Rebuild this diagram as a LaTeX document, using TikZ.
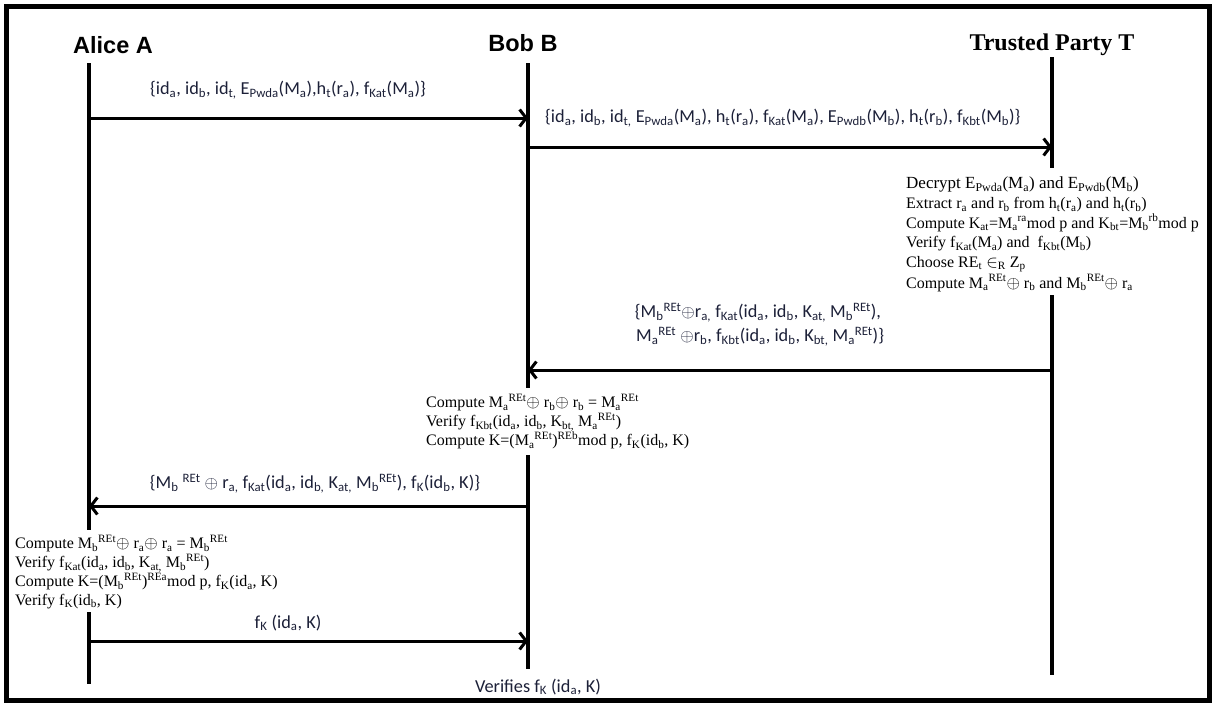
\documentclass[tikz,border=0pt]{standalone}
\usepackage{fontspec}
\setmainfont{Liberation Serif}
\newfontfamily\calfont{Carlito}
\newfontfamily\hdsans{Liberation Sans}
\usetikzlibrary{arrows.meta}
\newcommand{\subx}[1]{\textsubscript{#1}}
\newcommand{\supx}[1]{\textsuperscript{#1}}
\definecolor{msgtext}{RGB}{28,32,56}
\begin{document}
\begin{tikzpicture}[x=1pt,y=-1pt,
  life/.style={line width=3.2pt},
  msg/.style={line width=3pt,-{Straight Barb[length=6.5pt,width=17pt,line width=3pt]}},
  hdr/.style={font=\hdsans\bfseries\fontsize{23.5}{26}\selectfont, inner sep=0pt},
  lbl/.style={font=\calfont\fontsize{18.3}{24}\selectfont, text=msgtext, inner sep=0pt},
  comp/.style={font=\fontsize{16}{18.8}\selectfont, align=left, inner sep=0pt, anchor=north west},
]
\useasboundingbox (0,0) rectangle (1214,704);
% outer frame
\draw[line width=5pt] (6.5,6.5) rectangle (1209.5,700);

% participants
\node[hdr] (alice) at (113,45) {Alice A};
\node[hdr] (bob) at (523,43) {Bob B};
\node[font=\bfseries\fontsize{24}{26}\selectfont, inner sep=0pt] (trust) at (1052,45) {Trusted Party T};

% lifeline end points
\coordinate (aTop) at (89,63);
\coordinate (aCut) at (89,530);
\coordinate (aRes) at (89,612);
\coordinate (aEnd) at (89,684);
\coordinate (bTop) at (528,63);
\coordinate (bCut) at (528,388);
\coordinate (bRes) at (528,455);
\coordinate (bEnd) at (528,669);
\coordinate (tTop) at (1052,57);
\coordinate (tCut) at (1052,168);
\coordinate (tRes) at (1052,295);
\coordinate (tEnd) at (1052,675);

% computations
\node[comp, font=\fontsize{16}{19.6}\selectfont] (tcomp) at (906,177) {{\fontsize{17}{18}\selectfont Decrypt E\subx{Pwda}(M\subx{a}) and E\subx{Pwdb}(M\subx{b})}\\
Extract r\subx{a} and r\subx{b} from h\subx{t}(r\subx{a}) and h\subx{t}(r\subx{b})\\
Compute K\subx{at}=M\subx{a}\supx{ra}mod p and K\subx{bt}=M\subx{b}\supx{rb}mod p\\
Verify f\subx{Kat}(M\subx{a}) and\ \ f\subx{Kbt}(M\subx{b})\\
Choose RE\subx{t} $\in$\subx{R} Z\subx{p}\\[1pt]
Compute M\subx{a}\supx{REt}$\oplus$ r\subx{b} and M\subx{b}\supx{REt}$\oplus$ r\subx{a}};

\node[comp] (bcomp) at (426,394) {Compute M\subx{a}\supx{REt}$\oplus$ r\subx{b}$\oplus$ r\subx{b} = M\subx{a}\supx{REt}\\
Verify f\subx{Kbt}(id\subx{a}, id\subx{b}, K\subx{bt,} M\subx{a}\supx{REt})\\
Compute K=(M\subx{a}\supx{REt})\supx{REb}mod p, f\subx{K}(id\subx{b}, K)};

\node[comp] (acomp) at (15,535) {Compute M\subx{b}\supx{REt}$\oplus$ r\subx{a}$\oplus$ r\subx{a} = M\subx{b}\supx{REt}\\
Verify f\subx{Kat}(id\subx{a}, id\subx{b}, K\subx{at,} M\subx{b}\supx{REt})\\
Compute K=(M\subx{b}\supx{REt})\supx{REa}mod p, f\subx{K}(id\subx{a}, K)\\
Verify f\subx{K}(id\subx{b}, K)};

% lifelines
\draw[life] (aTop) -- (aCut);
\draw[life] (aRes) -- (aEnd);
\draw[life] (bTop) -- (bCut);
\draw[life] (bRes) -- (bEnd);
\draw[life] (tTop) -- (tCut);
\draw[life] (tRes) -- (tEnd);

% message anchor points on the lifelines
\coordinate (a1) at (89,118);  \coordinate (b1) at (528,118);
\coordinate (b2) at (528,147); \coordinate (t2) at (1052,147);
\coordinate (t3) at (1052,370); \coordinate (b3) at (528,370);
\coordinate (b4) at (528,506); \coordinate (a4) at (89,506);
\coordinate (a5) at (89,641);  \coordinate (b5) at (528,641);

\draw[msg] (a1) -- (b1);
\draw[msg] (b2) -- (t2);
\draw[msg] (t3) -- (b3);
\draw[msg] (b4) -- (a4);
\draw[msg] (a5) -- (b5);

% message labels
\node[lbl] (l1) at (288,90) {\{id\subx{a}, id\subx{b}, id\subx{t,} E\subx{Pwda}(M\subx{a}),h\subx{t}(r\subx{a}), f\subx{Kat}(M\subx{a})\}};
\node[lbl, anchor=west] (l2) at (545,118) {\{id\subx{a}, id\subx{b}, id\subx{t,} E\subx{Pwda}(M\subx{a}), h\subx{t}(r\subx{a}), f\subx{Kat}(M\subx{a}), E\subx{Pwdb}(M\subx{b}), h\subx{t}(r\subx{b}), f\subx{Kbt}(M\subx{b})\}};
\node[lbl, align=center] (l3) at (758,325) {\{M\subx{b}\supx{REt}$\oplus$r\subx{a,} f\subx{Kat}(id\subx{a}, id\subx{b}, K\subx{at,} M\subx{b}\supx{REt}),\\
\ M\subx{a}\supx{REt} $\oplus$r\subx{b}, f\subx{Kbt}(id\subx{a}, id\subx{b}, K\subx{bt,} M\subx{a}\supx{REt})\}};
\node[lbl] (l4) at (315,484) {\{M\subx{b} \supx{REt} $\oplus$ r\subx{a,} f\subx{Kat}(id\subx{a}, id\subx{b,} K\subx{at,} M\subx{b}\supx{REt}), f\subx{K}(id\subx{b}, K)\}};
\node[lbl] (l5) at (288,623) {f\subx{K} (id\subx{a}, K)};
\node[lbl] (l6) at (538,687) {Verifies f\subx{K} (id\subx{a}, K)};
\end{tikzpicture}
\end{document}
